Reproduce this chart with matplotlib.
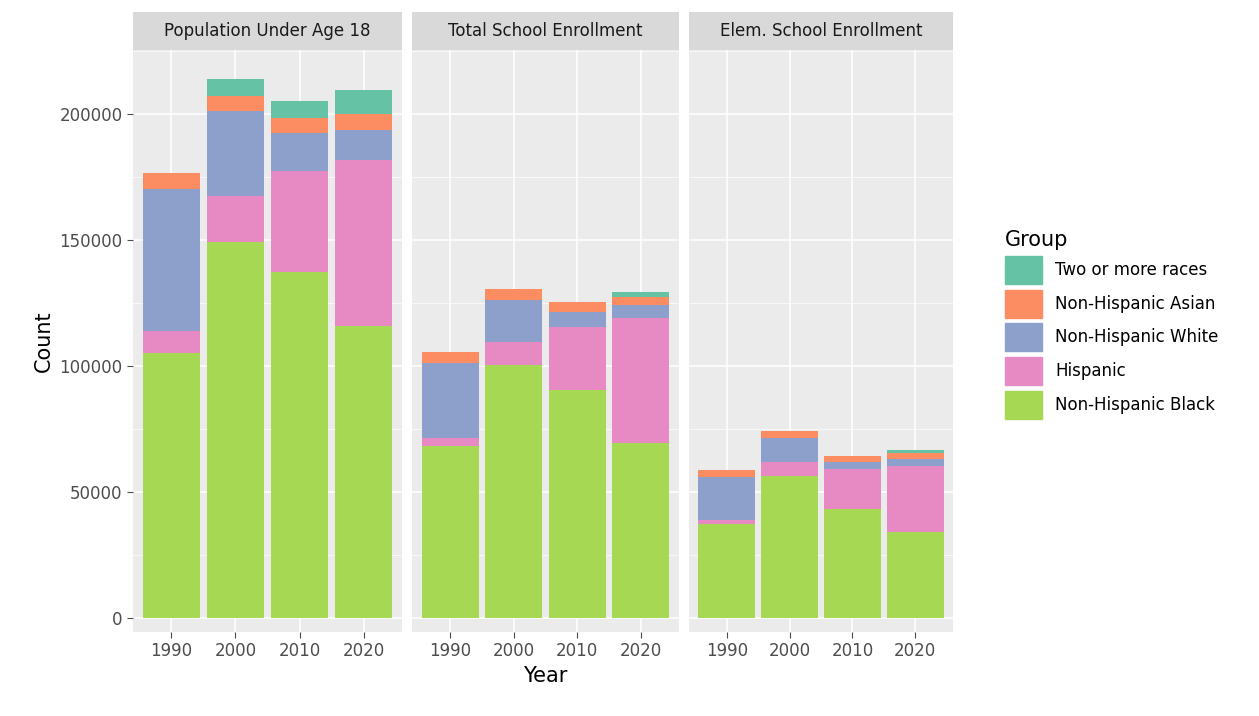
import numpy as np
import matplotlib.pyplot as plt
from matplotlib.patches import Patch

years = ["1990", "2000", "2010", "2020"]
panels = ["Population Under Age 18", "Total School Enrollment", "Elem. School Enrollment"]
groups = ["Non-Hispanic Black", "Hispanic", "Non-Hispanic White", "Non-Hispanic Asian", "Two or more races"]
colors = ["#A6D854", "#E78AC3", "#8DA0CB", "#FC8D62", "#66C2A5"]

# segment sizes per panel, rows = groups (bottom to top), cols = years
pop_u18 = [[105200, 149200, 137300, 115900],
           [8700, 18300, 40100, 65800],
           [56300, 33700, 15100, 12000],
           [6400, 5900, 5900, 6300],
           [0, 6800, 6800, 9500]]
total_enr = [[68300, 100400, 90500, 69400],
             [3100, 9100, 25000, 49600],
             [29800, 16700, 5900, 5200],
             [4400, 4400, 4000, 3200],
             [0, 0, 0, 2000]]
elem_enr = [[37300, 56300, 43300, 34100],
            [1600, 5600, 15800, 26200],
            [17100, 9500, 2800, 2800],
            [2700, 2800, 2400, 2400],
            [0, 0, 0, 1200]]
data = [pop_u18, total_enr, elem_enr]

fig = plt.figure(figsize=(12.59, 7.16), dpi=100)
W, H = 1259, 716
lefts = [133, 412, 689]
rights = [402, 679, 953]
top, bottom, strip_top = 50, 632, 12
x = np.arange(len(years))

for i, (name, vals) in enumerate(zip(panels, data)):
    ax = fig.add_axes([lefts[i] / W, 1 - bottom / H, (rights[i] - lefts[i]) / W, (bottom - top) / H])
    ax.set_facecolor("#EBEBEB")
    ax.set_axisbelow(True)
    ax.set_yticks([0, 50000, 100000, 150000, 200000])
    ax.set_yticks([25000, 75000, 125000, 175000, 225000], minor=True)
    ax.grid(True, which="major", color="white", lw=1.1)
    ax.grid(True, which="minor", axis="y", color="white", lw=0.5)
    base = np.zeros(len(years))
    for g, c, v in zip(groups, colors, vals):
        v = np.array(v, dtype=float)
        ax.bar(x, v, bottom=base, width=0.9, color=c, lw=0)
        base += v
    ax.set_xlim(-0.6, 3.6)
    ax.set_ylim(-5500, 225400)
    ax.set_xticks(x)
    ax.set_xticklabels(years)
    for s in ax.spines.values():
        s.set_visible(False)
    ax.tick_params(colors="#4D4D4D", labelsize=12, length=4, which="major")
    ax.tick_params(which="minor", length=0)
    if i == 0:
        ax.set_ylabel("Count", fontsize=15)
    else:
        ax.tick_params(axis="y", labelleft=False, length=0)
    if i == 1:
        ax.set_xlabel("Year", fontsize=15)
    sax = fig.add_axes([lefts[i] / W, 1 - top / H, (rights[i] - lefts[i]) / W, (top - strip_top) / H])
    sax.set_facecolor("#D9D9D9")
    sax.set_xticks([]); sax.set_yticks([])
    for s in sax.spines.values():
        s.set_visible(False)
    sax.text(0.5, 0.5, name, ha="center", va="center", fontsize=12, color="#1A1A1A")

handles = [Patch(color=c, label=g) for g, c in zip(groups, colors)][::-1]
fig.legend(handles=handles, title="Group", loc="upper left", bbox_to_anchor=(990 / W, 1 - 215 / H),
           frameon=False, fontsize=12, title_fontsize=15, handlelength=2.2, handleheight=2.2,
           labelspacing=0.35, alignment="left")

fig.savefig("out.png", dpi=100)
